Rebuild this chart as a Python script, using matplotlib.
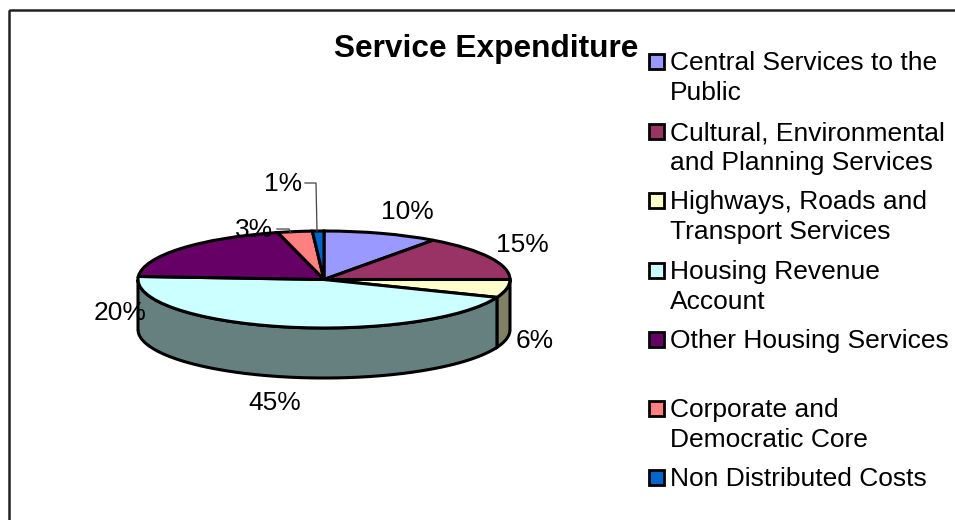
import numpy as np
import matplotlib
matplotlib.use("Agg")
import matplotlib.pyplot as plt
from matplotlib.patches import Rectangle

W, H = 955, 520

categories = ["Central Services to the\nPublic",
              "Cultural, Environmental\nand Planning Services",
              "Highways, Roads and\nTransport Services",
              "Housing Revenue\nAccount",
              "Other Housing Services",
              "Corporate and\nDemocratic Core",
              "Non Distributed Costs"]
values = [10, 15, 6, 45, 20, 3, 1]
colors = ["#9999FF", "#993366", "#FFFFCC", "#CCFFFF", "#660066", "#FF8080", "#0066CC"]

plt.rcParams["font.family"] = ["Liberation Sans", "DejaVu Sans"]


def px_box(left, top, right, bottom):
    return [left / W, 1 - bottom / H, (right - left) / W, (bottom - top) / H]


fig = plt.figure(figsize=(W / 100, H / 100), dpi=100, facecolor="white")

# page axes in pixel units, used for frame, title, legend and labels
page = fig.add_axes([0, 0, 1, 1], zorder=3)
page.set_xlim(0, W)
page.set_ylim(H, 0)
page.axis("off")
page.patch.set_alpha(0)

# squashed pie: non equal aspect turns the circle into the top ellipse
pie_ax = fig.add_axes(px_box(138, 231, 510, 328), zorder=2)
pie_ax.pie(values, colors=colors, startangle=90, counterclock=False, radius=1,
           wedgeprops=dict(edgecolor="black", linewidth=2.2))
pie_ax.set_aspect("auto")
pie_ax.set_xlim(-1, 1)
pie_ax.set_ylim(-1, 1)
pie_ax.axis("off")

# side wall of the cake, only the front half shows
depth = 50 / 48.5
edges = np.cumsum([0] + values) / sum(values) * 360
for i, color in enumerate(colors):
    a0, a1 = max(edges[i], 90), min(edges[i + 1], 270)
    if a1 <= a0:
        continue
    t = np.radians(np.linspace(a0, a1, 80))
    x, y = np.sin(t), np.cos(t)
    rgb = np.array(matplotlib.colors.to_rgb(color)) * 0.5
    pie_ax.fill(np.r_[x, x[::-1]], np.r_[y, y[::-1] - depth], facecolor=rgb,
                edgecolor="black", linewidth=2.2, clip_on=False, zorder=-1)

# page frame, runs off the right and bottom
page.add_patch(Rectangle((9, 10), W + 20, H + 20, fill=False, edgecolor="#222222",
                         linewidth=1.8, clip_on=False))

page.text(486.5, 49, "Service Expenditure", fontsize=22.8, fontweight="bold",
          ha="center", va="center", color="black")

# percentage labels around the pie
label_pos = [(407, 211), (522, 244), (535, 340), (275, 402), (120, 312), (254, 229), (283, 183)]
for v, (lx, ly) in zip(values, label_pos):
    page.text(lx, ly + 1, f"{v}%", fontsize=19, ha="center", va="center", color="black")

# leader lines for the two smallest slices
page.plot([305, 316, 317], [183, 183, 231], color="#444444", lw=0.9)
page.plot([277, 289, 291], [229, 229, 233], color="#444444", lw=0.9)

# legend
legend_y = [61, 131, 200, 270, 339, 408, 477]
for name, color, ly in zip(categories, colors, legend_y):
    page.add_patch(Rectangle((649, ly - 7.5), 14.5, 15, facecolor=color, edgecolor="black",
                             linewidth=2))
    page.text(670, ly - 10, name, fontsize=19, ha="left", va="top", color="black",
              linespacing=1.31)

fig.savefig("out.png", dpi=100)
